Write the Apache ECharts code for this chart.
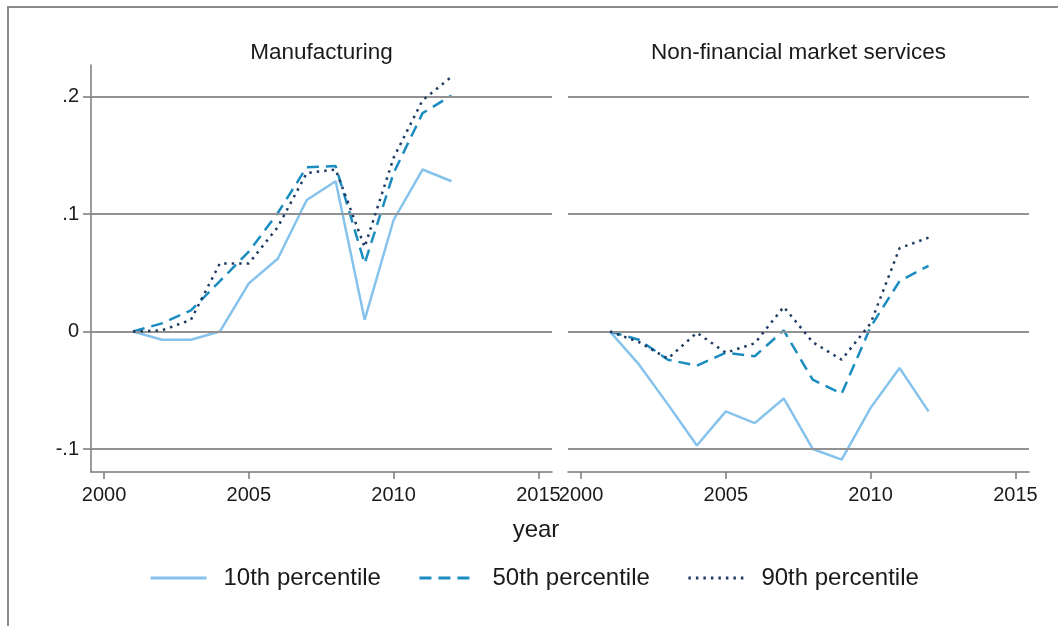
<!DOCTYPE html>
<html>
<head>
<meta charset="utf-8">
<script src="https://cdn.jsdelivr.net/npm/echarts@6/dist/echarts.min.js"></script>
<style>
  html, body { margin: 0; padding: 0; background: #fff; }
  #chart { width: 1058px; height: 626px; }
</style>
</head>
<body>
<div id="chart"></div>
<script>
// Years covered by every series
const years = [2001, 2002, 2003, 2004, 2005, 2006, 2007, 2008, 2009, 2010, 2011, 2012];

// Manufacturing
const mfgP10 = [0, -0.007, -0.007, 0.000, 0.041, 0.062, 0.112, 0.128, 0.010, 0.095, 0.138, 0.128];
const mfgP50 = [0, 0.007, 0.018, 0.043, 0.068, 0.101, 0.140, 0.141, 0.058, 0.135, 0.186, 0.201];
const mfgP90 = [0, 0.001, 0.010, 0.058, 0.058, 0.089, 0.135, 0.138, 0.072, 0.148, 0.197, 0.217];

// Non-financial market services
const svcP10 = [0, -0.028, -0.062, -0.097, -0.068, -0.078, -0.057, -0.100, -0.109, -0.065, -0.031, -0.068];
const svcP50 = [0, -0.007, -0.024, -0.029, -0.018, -0.021, 0.001, -0.041, -0.053, 0.004, 0.043, 0.056];
const svcP90 = [0, -0.009, -0.023, -0.001, -0.018, -0.010, 0.021, -0.009, -0.024, 0.007, 0.071, 0.080];

const panelTitles = ['Manufacturing', 'Non-financial market services'];
const seriesNames = ['10th percentile', '50th percentile', '90th percentile'];
const xTicks = [2000, 2005, 2010, 2015];
const yTicks = [-0.1, 0, 0.1, 0.2];
const xTitle = 'year';

const FONT = '"Liberation Sans", Arial, Helvetica, sans-serif';
const AXIS = '#7a7a7a';
const GRIDLINE = '#929292';
const TEXT = '#1a1a1a';

const styles = [
  { color: '#86c3ec', type: 'solid', width: 2.5 },
  { color: '#1a8cc0', type: [12, 7], width: 2.5 },
  { color: '#1f3b63', type: [2.5, 5], width: 2.5 }
];

const pair = (vals) => years.map((y, i) => [y, vals[i]]);
const panels = [[mfgP10, mfgP50, mfgP90], [svcP10, svcP50, svcP90]];

const yFmt = (v) => {
  if (Math.abs(v) < 1e-9) return '0';
  return (v < 0 ? '-' : '') + String(Math.abs(v)).replace(/^0/, '');
};

function xAxisFor(gi) {
  return {
    type: 'value', gridIndex: gi, min: 1999.55, max: 2015.47,
    axisLine: { show: true, onZero: false, lineStyle: { color: AXIS, width: 1.5 } },
    axisTick: { show: true, length: 7, customValues: xTicks, lineStyle: { color: AXIS, width: 1.5 } },
    axisLabel: { customValues: xTicks, formatter: (v) => String(Math.round(v)),
                 fontSize: 20, color: TEXT, margin: 13, fontFamily: FONT },
    splitLine: { show: false }
  };
}
function yAxisFor(gi) {
  const left = gi === 0;
  return {
    type: 'value', gridIndex: gi, min: -0.1196, max: 0.227,
    axisLine: { show: left, onZero: false, lineStyle: { color: AXIS, width: 1.5 } },
    axisTick: { show: left, length: 8, customValues: yTicks, lineStyle: { color: AXIS, width: 1.5 } },
    axisLabel: { show: left, customValues: yTicks, formatter: yFmt, fontSize: 20, color: TEXT, margin: 12, fontFamily: FONT },
    splitLine: { show: false }
  };
}

const series = [];
panels.forEach((vals, gi) => {
  // horizontal reference lines at each labelled y value
  series.push({
    type: 'line', name: 'grid' + gi, xAxisIndex: gi, yAxisIndex: gi,
    data: pair(vals[0]), showSymbol: false, silent: true, z: 1,
    lineStyle: { opacity: 0 },
    markLine: {
      silent: true, symbol: 'none', label: { show: false }, animation: false,
      lineStyle: { color: GRIDLINE, type: 'solid', width: 2 },
      data: yTicks.map(v => ({ yAxis: v }))
    }
  });
  vals.forEach((v, k) => {
    series.push({
      type: 'line', name: seriesNames[k], xAxisIndex: gi, yAxisIndex: gi,
      data: pair(v), symbol: 'none', showSymbol: false, z: 3 + k,
      color: styles[k].color,
      lineStyle: { color: styles[k].color, type: styles[k].type, width: styles[k].width }
    });
  });
});

const chart = echarts.init(document.getElementById('chart'), null, { renderer: 'canvas' });
chart.setOption({
  backgroundColor: '#ffffff',
  animation: false,
  grid: [
    { left: 91, right: 506, top: 65, bottom: 154, containLabel: false },
    { left: 568, right: 29, top: 65, bottom: 154, containLabel: false }
  ],
  xAxis: [xAxisFor(0), xAxisFor(1)],
  yAxis: [yAxisFor(0), yAxisFor(1)],
  legend: {
    data: seriesNames, left: 149, top: 566, padding: 0,
    itemWidth: 56, itemHeight: 24, itemGap: 37,
    itemStyle: { opacity: 0 },
    lineStyle: { width: 3 },
    textStyle: { fontSize: 24, color: TEXT, fontFamily: FONT, padding: [0, 0, 0, 12] },
    selectedMode: false
  },
  graphic: [
    { type: 'polyline', silent: true, shape: { points: [[8, 626], [8, 7], [1058, 7]] },
      style: { stroke: '#8c8c8c', lineWidth: 2, fill: null } },
    { type: 'text', x: 321.5, y: 53, silent: true,
      style: { text: panelTitles[0], font: '22.5px ' + FONT, fill: TEXT, align: 'center', verticalAlign: 'middle' } },
    { type: 'text', x: 798.5, y: 53, silent: true,
      style: { text: panelTitles[1], font: '22.5px ' + FONT, fill: TEXT, align: 'center', verticalAlign: 'middle' } },
    { type: 'text', x: 536, y: 530, silent: true,
      style: { text: xTitle, font: '24px ' + FONT, fill: TEXT, align: 'center', verticalAlign: 'middle' } }
  ],
  series: series
});
</script>
</body>
</html>
